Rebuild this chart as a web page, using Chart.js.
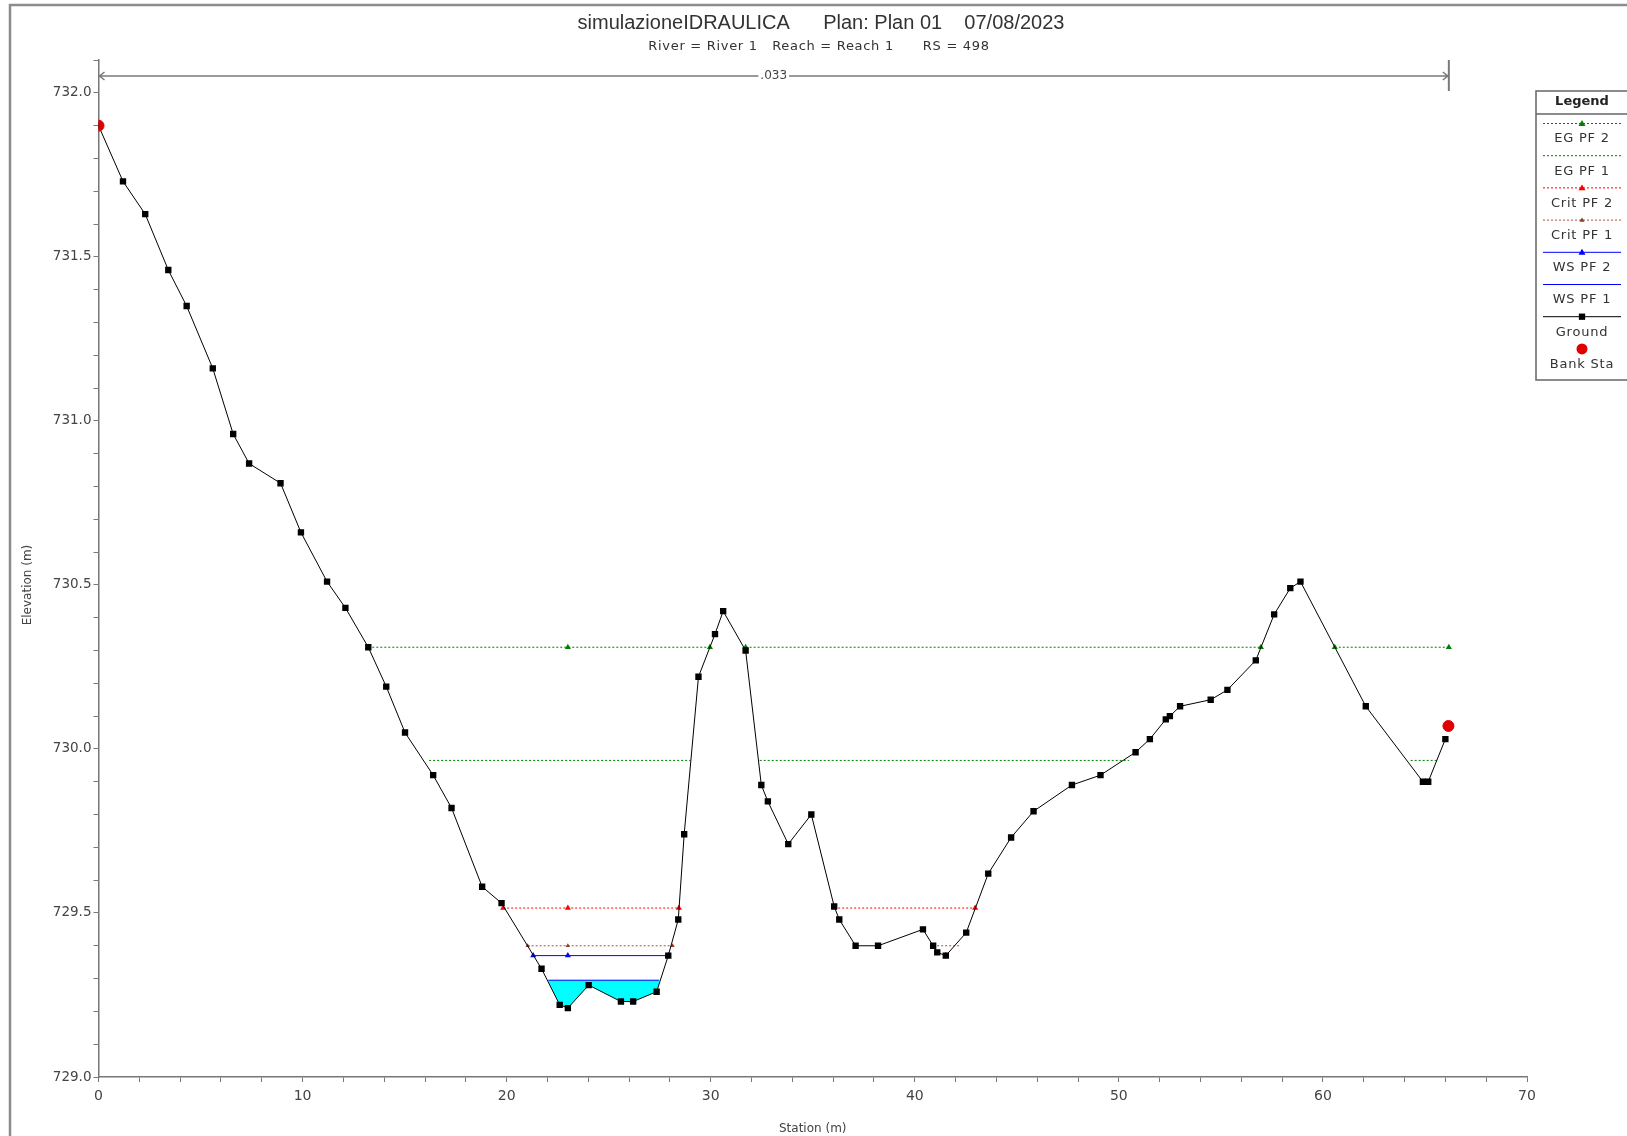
<!DOCTYPE html>
<html lang="it">
<head>
<meta charset="utf-8">
<title>simulazioneIDRAULICA - RS 498</title>
<script src="https://cdn.jsdelivr.net/npm/chart.js@4.4.0/dist/chart.umd.min.js"></script>
<style>
  body { margin: 0; background: #fff; }
  #wrap { position: relative; width: 1627px; height: 1136px; }
</style>
</head>
<body>
<div id="wrap"><canvas id="sezione"></canvas></div>
<script>
// terreno (stazione m, quota m)
var groundSta = [0, 1.2, 2.29, 3.42, 4.32, 5.6, 6.6, 7.38, 8.92, 9.92, 11.2, 12.1, 13.22, 14.1, 15.02,
  16.4, 17.3, 18.8, 19.75, 21.71, 22.6, 23.0, 24.02, 25.6, 26.2, 27.35, 27.92, 28.41, 28.7, 29.4,
  30.21, 30.61, 31.71, 32.48, 32.8, 33.8, 34.93, 36.05, 36.3, 37.1, 38.2, 40.4, 40.9, 41.1, 41.52,
  42.52, 43.6, 44.72, 45.82, 47.7, 49.1, 50.82, 51.52, 52.3, 52.5, 53.0, 54.5, 55.32, 56.71, 57.61,
  58.4, 58.9, 62.1, 64.9, 65.16, 66.0];
var groundElev = [731.90, 731.73, 731.63, 731.46, 731.35, 731.16, 730.96, 730.87, 730.81, 730.66, 730.51, 730.43, 730.31, 730.19, 730.05,
  729.92, 729.82, 729.58, 729.53, 729.33, 729.22, 729.21, 729.28, 729.23, 729.23, 729.26, 729.37, 729.48, 729.74, 730.22,
  730.35, 730.42, 730.30, 729.89, 729.84, 729.71, 729.80, 729.52, 729.48, 729.40, 729.40, 729.45, 729.40, 729.38, 729.37,
  729.44, 729.62, 729.73, 729.81, 729.89, 729.92, 729.99, 730.03, 730.09, 730.10, 730.13, 730.15, 730.18, 730.27, 730.41,
  730.49, 730.51, 730.13, 729.90, 729.90, 730.03];

var bankSta = [0, 66.15];
var bankElev = [731.90, 730.07];

// quote dei profili
var egPF2 = 730.31, egPF1 = 729.965, critPF2 = 729.515, critPF1 = 729.40, wsPF2 = 729.37, wsPF1 = 729.295;

// tratti (stazione inizio, fine) e marcatori
var egPF2Seg = [[13.22, 29.96], [31.71, 56.96], [60.58, 66.17]];
var egPF2Marks = [13.22, 23.0, 29.96, 31.71, 56.96, 60.58, 66.17];
var egPF1Seg = [[16.2, 29.0], [32.4, 50.5], [64.3, 65.6]];
var critPF2Seg = [[19.83, 28.44], [36.05, 42.96]];
var critPF2Marks = [19.83, 23.0, 28.44, 36.05, 42.96];
var critPF1Seg = [[21.03, 28.13], [40.9, 42.2]];
var critPF1Marks = [21.03, 23.0, 28.13];
var wsPF2Seg = [[21.30, 27.92], [41.52, 41.52]];
var wsPF2Marks = [21.30, 23.0, 27.92, 41.52];
var wsPF1Seg = [[22.04, 27.48]];

// scabrezza
var nSta = [0, 66.17];
var nLabel = '.033';

var xMin = 0, xMax = 70, xStep = 2, xLabelStep = 10;
var yMin = 729, yMax = 732.1, yStep = 0.1, yLabelStep = 0.5;

var titleText = 'simulazioneIDRAULICA      Plan: Plan 01    07/08/2023';
var subtitleText = 'River = River 1   Reach = Reach 1      RS = 498';
var yTitle = 'Elevation (m)';
var xTitle = 'Station (m)';

function levelData(segs, marks, elev) {
  var pts = [];
  segs.forEach(function (s) {
    var st = [s[0]];
    marks.forEach(function (m) { if (m > s[0] && m < s[1]) st.push(m); });
    st.push(s[1]);
    st.forEach(function (x) { pts.push({x: x, y: elev}); });
    pts.push({x: s[1], y: null});
  });
  return pts;
}
function markRadius(marks, r) {
  return function (c) {
    var p = c.raw;
    if (!p || p.y === null) return 0;
    return marks.indexOf(p.x) >= 0 ? r : 0;
  };
}

var groundData = groundSta.map(function (x, i) { return {x: x, y: groundElev[i]}; });
var bankData = bankSta.map(function (x, i) { return {x: x, y: bankElev[i]}; });

var datasets = [
  {label: 'Bank Sta', data: bankData, showLine: false, pointStyle: 'circle', pointRadius: 5.5,
    pointBackgroundColor: '#e00000', pointBorderColor: '#e00000', borderColor: '#e00000'},
  {label: 'Ground', data: groundData, borderColor: '#000', borderWidth: 1, pointStyle: 'rect',
    pointRadius: 4.5, pointBackgroundColor: '#000', pointBorderColor: '#000', pointBorderWidth: 0},
  {label: 'WS PF 2', data: levelData(wsPF2Seg, wsPF2Marks, wsPF2), borderColor: '#0000ff', borderWidth: 1,
    pointStyle: 'triangle', pointRadius: markRadius(wsPF2Marks, 3.5), pointBackgroundColor: '#0000ff',
    pointBorderColor: '#0000ff', pointBorderWidth: 0},
  {label: 'WS PF 1', data: levelData(wsPF1Seg, [], wsPF1), borderColor: '#0000ff', borderWidth: 1,
    pointRadius: 0, fill: {target: 1, above: '#00ffff', below: 'rgba(0,0,0,0)'}},
  {label: 'Crit PF 1', data: levelData(critPF1Seg, critPF1Marks, critPF1), borderColor: '#b0503a', borderWidth: 1,
    borderDash: [2, 2], pointStyle: 'triangle', pointRadius: markRadius(critPF1Marks, 2.5),
    pointBackgroundColor: '#8a3a2a', pointBorderColor: '#8a3a2a', pointBorderWidth: 0},
  {label: 'Crit PF 2', data: levelData(critPF2Seg, critPF2Marks, critPF2), borderColor: '#ff0000', borderWidth: 1,
    borderDash: [2, 2], pointStyle: 'triangle', pointRadius: markRadius(critPF2Marks, 3.5),
    pointBackgroundColor: '#ff0000', pointBorderColor: '#ff0000', pointBorderWidth: 0},
  {label: 'EG PF 1', data: levelData(egPF1Seg, [], egPF1), borderColor: '#008000', borderWidth: 1,
    borderDash: [2, 2], pointRadius: 0},
  {label: 'EG PF 2', data: levelData(egPF2Seg, egPF2Marks, egPF2), borderColor: '#008000', borderWidth: 1,
    borderDash: [2, 2], pointStyle: 'triangle', pointRadius: markRadius(egPF2Marks, 3.5),
    pointBackgroundColor: '#008000', pointBorderColor: '#008000', pointBorderWidth: 0}
];

// legenda nello stile HEC-RAS (riquadro a destra)
var legendOrder = ['EG PF 2', 'EG PF 1', 'Crit PF 2', 'Crit PF 1', 'WS PF 2', 'WS PF 1', 'Ground', 'Bank Sta'];
var legendMarks = {'EG PF 2': 'triangle', 'Crit PF 2': 'triangle', 'Crit PF 1': 'triangle', 'WS PF 2': 'triangle',
  'Ground': 'rect', 'Bank Sta': 'circle'};

function mark(ctx, style, x, y, r, col) {
  ctx.save();
  ctx.fillStyle = col;
  ctx.setLineDash([]);
  ctx.beginPath();
  if (style === 'circle') ctx.arc(x, y, r, 0, Math.PI * 2);
  else if (style === 'rect') ctx.rect(x - r * 0.7, y - r * 0.7, r * 1.4, r * 1.4);
  else { ctx.moveTo(x, y - r); ctx.lineTo(x + r, y + r * 0.7); ctx.lineTo(x - r, y + r * 0.7); ctx.closePath(); }
  ctx.fill();
  ctx.restore();
}

var decor = {
  id: 'decor',
  beforeDraw: function (chart) {
    var ctx = chart.ctx;
    ctx.save();
    ctx.fillStyle = '#fff';
    ctx.fillRect(0, 0, chart.width, chart.height);
    ctx.strokeStyle = '#8c8c8c';
    ctx.lineWidth = 2.5;
    ctx.strokeRect(10, 5, chart.width + 20, chart.height + 20);
    ctx.restore();
  },
  afterDraw: function (chart) {
    var ctx = chart.ctx, xs = chart.scales.x, area = chart.chartArea;
    ctx.save();
    // titoli
    ctx.fillStyle = '#333';
    ctx.textAlign = 'center';
    ctx.textBaseline = 'middle';
    ctx.font = '20px "Liberation Sans", Arial, sans-serif';
    ctx.fillText(titleText, 821, 23);
    ctx.font = '13px "DejaVu Sans", sans-serif';
    ctx.letterSpacing = '0.7px';
    ctx.fillText(subtitleText, 819, 47);
    ctx.letterSpacing = '0px';

    // titolo asse quote
    ctx.save();
    ctx.translate(28, 585);
    ctx.rotate(-Math.PI / 2);
    ctx.font = '12px "DejaVu Sans", sans-serif';
    ctx.fillStyle = '#444';
    ctx.fillText(yTitle, 0, 0);
    ctx.restore();

    // linea della scabrezza
    var ny = area.top + 16;
    var x0 = xs.getPixelForValue(nSta[0]), x1 = xs.getPixelForValue(nSta[1]);
    ctx.strokeStyle = '#7a7a7a';
    ctx.lineWidth = 1.5;
    ctx.beginPath();
    ctx.moveTo(x0, ny); ctx.lineTo(x1, ny);
    ctx.moveTo(x0 + 6, ny - 4); ctx.lineTo(x0 + 1, ny); ctx.lineTo(x0 + 6, ny + 4);
    ctx.moveTo(x1 - 6, ny - 4); ctx.lineTo(x1 - 1, ny); ctx.lineTo(x1 - 6, ny + 4);
    ctx.stroke();
    ctx.lineWidth = 2;
    ctx.beginPath();
    ctx.moveTo(x1, area.top); ctx.lineTo(x1, area.top + 31);
    ctx.stroke();
    ctx.font = '12px "DejaVu Sans", sans-serif';
    var xm = (x0 + x1) / 2, tw = ctx.measureText(nLabel).width;
    ctx.fillStyle = '#fff';
    ctx.fillRect(xm - tw / 2 - 2, ny - 6, tw + 4, 12);
    ctx.fillStyle = '#444';
    ctx.fillText(nLabel, xm, ny);

    // legenda
    var lx = 1536, lt = 91, lw = 100, lh = 289, cx = 1582;
    ctx.strokeStyle = '#666';
    ctx.lineWidth = 1.5;
    ctx.strokeRect(lx, lt, lw, lh);
    ctx.beginPath();
    ctx.moveTo(lx, lt + 23); ctx.lineTo(lx + lw, lt + 23);
    ctx.stroke();
    ctx.fillStyle = '#222';
    ctx.font = 'bold 13px "DejaVu Sans", sans-serif';
    ctx.fillText('Legend', cx, lt + 11);
    ctx.font = '13px "DejaVu Sans", sans-serif';
    ctx.letterSpacing = '0.8px';
    legendOrder.forEach(function (name, i) {
      var ds = chart.data.datasets.filter(function (d) { return d.label === name; })[0];
      var sy = 123.5 + i * 32.2, ty = 139 + i * 32.2;
      var col = ds.borderColor;
      if (name !== 'Bank Sta') {
        ctx.save();
        ctx.strokeStyle = col;
        ctx.lineWidth = 1;
        ctx.setLineDash(ds.borderDash || []);
        ctx.beginPath();
        ctx.moveTo(1543, sy); ctx.lineTo(1621, sy);
        ctx.stroke();
        ctx.restore();
      }
      if (legendMarks[name]) {
        var r = name === 'Bank Sta' ? 5.5 : (name === 'Ground' ? 4.5 : (name === 'Crit PF 1' ? 2.5 : 3.5));
        mark(ctx, legendMarks[name], cx, sy, r, ds.pointBackgroundColor || col);
      }
      ctx.fillStyle = '#333';
      ctx.fillText(name, cx, ty);
    });
    ctx.letterSpacing = '0px';
    ctx.restore();
  }
};

Chart.defaults.font.family = '"DejaVu Sans", sans-serif';
Chart.defaults.color = '#444';

new Chart(document.getElementById('sezione'), {
  type: 'line',
  data: {datasets: datasets},
  options: {
    responsive: true,
    maintainAspectRatio: false,
    animation: false,
    layout: {padding: {top: 60, right: 100, left: 0, bottom: 0}},
    plugins: {legend: {display: false}, tooltip: {enabled: false}, title: {display: false}},
    elements: {line: {tension: 0}},
    scales: {
      x: {
        type: 'linear', min: xMin, max: xMax,
        afterFit: function (s) { s.height = 59; },
        border: {color: '#777', width: 1.5},
        grid: {drawOnChartArea: false, drawTicks: true, tickLength: 5, color: '#777'},
        ticks: {stepSize: xStep, autoSkip: false, maxRotation: 0, padding: 6, font: {size: 14},
          callback: function (v) { return v % xLabelStep === 0 ? String(v) : ''; }},
        title: {display: true, text: xTitle, font: {size: 12}, padding: {top: 0, bottom: 0}}
      },
      y: {
        type: 'linear', min: yMin, max: yMax,
        afterFit: function (s) { s.width = 98.5; },
        border: {color: '#777', width: 1.5},
        grid: {drawOnChartArea: false, drawTicks: true, tickLength: 5, color: '#777'},
        ticks: {stepSize: yStep, autoSkip: false, padding: 2, font: {size: 13.5},
          callback: function (v) {
            var k = v / yLabelStep;
            return Math.abs(k - Math.round(k)) < 1e-6 ? v.toFixed(1) : '';
          }},
        title: {display: false}
      }
    }
  },
  plugins: [decor]
});
</script>
</body>
</html>
